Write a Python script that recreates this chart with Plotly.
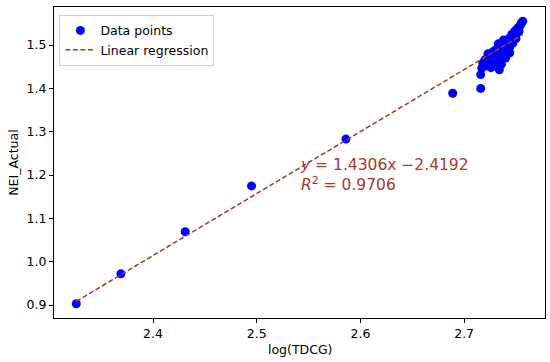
import plotly.graph_objects as go

# Data
log_tdcg = [2.326, 2.369, 2.431, 2.495, 2.586, 2.689, 2.716,
            2.716, 2.717, 2.718, 2.720, 2.722, 2.724, 2.725, 2.726, 2.727, 2.728,
            2.729, 2.730, 2.731, 2.732, 2.733, 2.734, 2.734, 2.735, 2.736, 2.737,
            2.738, 2.738, 2.739, 2.740, 2.741, 2.742, 2.743, 2.744, 2.745, 2.746,
            2.747, 2.748, 2.749, 2.750, 2.751, 2.752, 2.753, 2.754, 2.755, 2.7565,
            2.729, 2.736, 2.740, 2.744, 2.723, 2.733]
nei_actual = [0.903, 0.972, 1.069, 1.175, 1.283, 1.389, 1.400,
              1.432, 1.447, 1.458, 1.466, 1.452, 1.462, 1.475, 1.448, 1.468, 1.485,
              1.458, 1.472, 1.490, 1.465, 1.478, 1.495, 1.443, 1.470, 1.485, 1.500,
              1.478, 1.512, 1.492, 1.508, 1.488, 1.500, 1.515, 1.495, 1.510, 1.525,
              1.505, 1.520, 1.533, 1.515, 1.528, 1.540, 1.532, 1.545, 1.550, 1.555,
              1.480, 1.456, 1.470, 1.482, 1.480, 1.503]

slope = 1.4306
intercept = -2.4192
r2 = 0.9706

x_ticks = [2.4, 2.5, 2.6, 2.7]
y_ticks = [0.9, 1.0, 1.1, 1.2, 1.3, 1.4, 1.5]
x_title = "log(TDCG)"
y_title = "NEI_Actual"

xmin, xmax = min(log_tdcg), max(log_tdcg)
line_x = [xmin, xmax]
line_y = [slope * v + intercept for v in line_x]

FONT = "DejaVu Sans"
LINE_COLOR = "#a5392a"

fig = go.Figure()
fig.add_trace(go.Scatter(
    x=log_tdcg, y=nei_actual, mode="markers", name="Data points",
    marker=dict(color="#0000ff", size=9, line=dict(width=0)),
))
fig.add_trace(go.Scatter(
    x=line_x, y=line_y, mode="lines", name="Linear regression",
    line=dict(color=LINE_COLOR, width=1.5, dash="5px,2.5px"),
))

fig.add_annotation(
    x=2.540, y=1.2005, xref="x", yref="y", xanchor="left", yanchor="middle",
    text=f"<i>y</i> = {slope:.4f}x \u2212{abs(intercept):.4f}<br><i>R</i><sup>2</sup> = {r2:.4f}",
    showarrow=False, align="left",
    font=dict(family=FONT, size=15.5, color=LINE_COLOR),
)

# axis titles placed in paper coordinates
fig.add_annotation(
    x=0.5, y=-0.100, xref="paper", yref="paper", xanchor="center", yanchor="middle",
    text=x_title, showarrow=False, font=dict(family=FONT, size=12.5, color="black"),
)
fig.add_annotation(
    x=-0.083, y=0.5, xref="paper", yref="paper", xanchor="center", yanchor="middle",
    text=y_title, textangle=-90, showarrow=False,
    font=dict(family=FONT, size=12.5, color="black"),
)

yr_lo, yr_hi = 0.870, 1.588
xr_lo, xr_hi = 2.3045, 2.778

axis_common = dict(
    showline=True, linecolor="black", linewidth=1, mirror=True,
    ticks="outside", ticklen=4, tickwidth=1, tickcolor="black",
    showgrid=False, zeroline=False, automargin=False,
    tickfont=dict(family=FONT, size=12.5, color="black"),
)

fig.update_layout(
    width=550, height=362,
    margin=dict(l=54, r=5, t=7, b=44),
    paper_bgcolor="white", plot_bgcolor="white",
    font=dict(family=FONT, size=12.5, color="black"),
    xaxis=dict(range=[xr_lo, xr_hi], tickvals=x_ticks, tickformat=".1f", **axis_common),
    yaxis=dict(range=[yr_lo, yr_hi], tickvals=y_ticks, tickformat=".1f", **axis_common),
    legend=dict(x=0.011, y=0.975, xanchor="left", yanchor="top",
                bgcolor="white", bordercolor="#d0d0d0", borderwidth=1,
                font=dict(family=FONT, size=12.5), itemwidth=30,
                tracegroupgap=0),
    showlegend=True,
)

fig.write_html(
    "out.html",
    config={"displayModeBar": False},
    post_script="document.body.style.margin='0';document.body.style.padding='0';",
)
